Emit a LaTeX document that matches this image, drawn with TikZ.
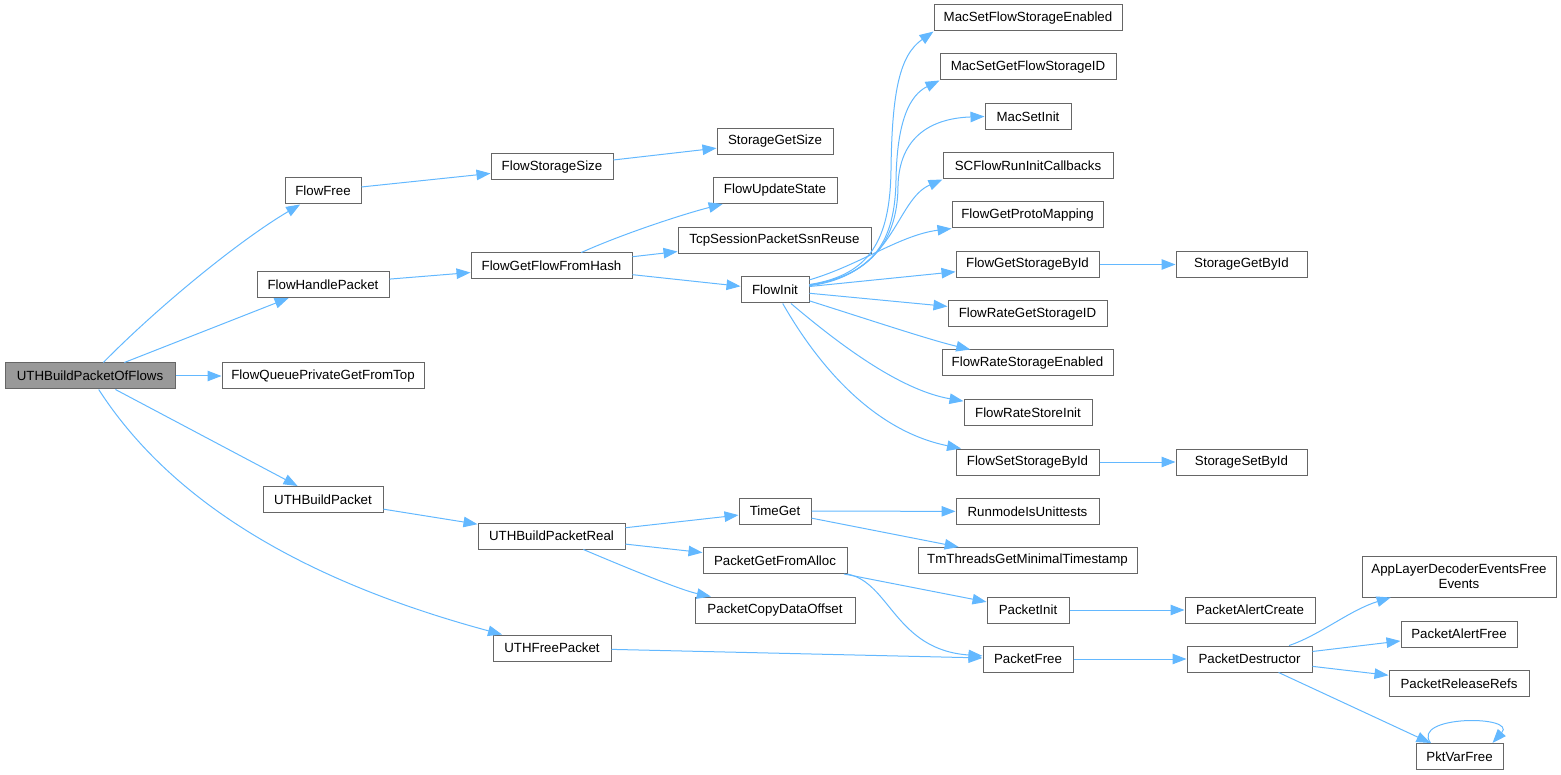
\documentclass[tikz,border=0pt]{standalone}
\usepackage{fontspec}
\setmainfont{Liberation Sans}
\usetikzlibrary{arrows.meta}
\definecolor{edgeblue}{HTML}{63B8FF}
\definecolor{boxgray}{HTML}{666666}
\definecolor{rootgray}{HTML}{999999}
\begin{document}
\begin{tikzpicture}[x=1pt,y=-1pt,
  fn/.style={draw=boxgray,fill=white,line width=1pt,minimum height=26pt,inner sep=2pt,font=\fontsize{13.3}{15}\selectfont},
  rootfn/.style={fn,fill=rootgray},
  call/.style={draw=edgeblue,line width=1pt,-{Triangle[length=14pt,width=10.5pt]}}]
\useasboundingbox (0,0) rectangle (1561,775);

\node[rootfn,minimum width=170pt] (root) at (90,376) {UTHBuildPacketOfFlows};
\node[fn,minimum width=76pt] (ffree) at (323,191) {FlowFree};
\node[fn,minimum width=132pt] (fhp) at (323,284.5) {FlowHandlePacket};
\node[fn,minimum width=202pt] (fqp) at (323,376) {FlowQueuePrivateGetFromTop};
\node[fn,minimum width=120pt] (uthbp) at (323,499.5) {UTHBuildPacket};
\node[fn,minimum width=122pt] (fss) at (552,167) {FlowStorageSize};
\node[fn,minimum width=161pt] (fgffh) at (551.5,266) {FlowGetFlowFromHash};
\node[fn,minimum width=147pt] (uthbpr) at (551.5,536) {UTHBuildPacketReal};
\node[fn,minimum width=118pt] (uthfp) at (552,648) {UTHFreePacket};
\node[fn,minimum width=116pt] (sgs) at (775,141.5) {StorageGetSize};
\node[fn,minimum width=124pt] (fus) at (775,190.5) {FlowUpdateState};
\node[fn,minimum width=193pt] (tcp) at (774.5,240.5) {TcpSessionPacketSsnReuse};
\node[fn,minimum width=68pt] (finit) at (775,290) {FlowInit};
\node[fn,minimum width=72pt] (tget) at (775,511) {TimeGet};
\node[fn,minimum width=144pt] (pgfa) at (775,560.5) {PacketGetFromAlloc};
\node[fn,minimum width=160pt] (pcdo) at (775,610) {PacketCopyDataOffset};
\node[fn,minimum width=188pt] (msfse) at (1028,18) {MacSetFlowStorageEnabled};
\node[fn,minimum width=176pt] (msgfs) at (1028,67) {MacSetGetFlowStorageID};
\node[fn,minimum width=86pt] (msi) at (1028,116.5) {MacSetInit};
\node[fn,minimum width=170pt] (scfric) at (1028,166) {SCFlowRunInitCallbacks};
\node[fn,minimum width=151pt] (fgpm) at (1027.5,215) {FlowGetProtoMapping};
\node[fn,minimum width=143pt] (fgsbi) at (1027.5,264.5) {FlowGetStorageById};
\node[fn,minimum width=159pt] (frgs) at (1027.5,314) {FlowRateGetStorageID};
\node[fn,minimum width=171pt] (frse) at (1027.5,363) {FlowRateStorageEnabled};
\node[fn,minimum width=128pt] (frsi) at (1028,412.5) {FlowRateStoreInit};
\node[fn,minimum width=143pt] (fssbi) at (1027.5,462) {FlowSetStorageById};
\node[fn,minimum width=143pt] (rmut) at (1027.5,511.5) {RunmodeIsUnittests};
\node[fn,minimum width=219pt] (tmts) at (1027.5,560.5) {TmThreadsGetMinimalTimestamp};
\node[fn,minimum width=82pt] (pinit) at (1028,610) {PacketInit};
\node[fn,minimum width=90pt] (pfree) at (1028,659) {PacketFree};
\node[fn,minimum width=131pt] (sgbi) at (1241.5,264.5) {StorageGetById};
\node[fn,minimum width=131pt] (ssbi) at (1241.5,462) {StorageSetById};
\node[fn,minimum width=130pt] (pac) at (1250,610) {PacketAlertCreate};
\node[fn,minimum width=125pt] (pdes) at (1249.5,659) {PacketDestructor};
\node[fn,minimum width=194pt,minimum height=41pt,align=center] (alde) at (1459,576.5) {AppLayerDecoderEventsFree\\Events};
\node[fn,minimum width=116pt] (paf) at (1459,634) {PacketAlertFree};
\node[fn,minimum width=140pt] (prr) at (1459,683.5) {PacketReleaseRefs};
\node[fn,minimum width=87pt] (pvf) at (1459.5,756.5) {PktVarFree};

\draw[call] (root) .. controls (160,305) and (240,240) .. (ffree);
\draw[call] (root) -- (fhp);
\draw[call] (root) -- (fqp);
\draw[call] (root) -- (uthbp);
\draw[call] (root) .. controls (170,500) and (300,580) .. (uthfp);
\draw[call] (ffree) -- (fss);
\draw[call] (fss) -- (sgs);
\draw[call] (fhp) -- (fgffh);
\draw[call] (fgffh) .. controls (620,235) and (680,215) .. (fus);
\draw[call] (fgffh) -- (tcp);
\draw[call] (fgffh) -- (finit);
\draw[call] (finit) .. controls (870,275) and (890,240) .. (891,170) .. controls (892,90) and (900,55) .. (msfse.south west);
\draw[call] (finit) .. controls (875,275) and (895,240) .. (896,180) .. controls (897,120) and (910,95) .. (msgfs.south west);
\draw[call] (finit) .. controls (880,275) and (898,230) .. (898,185) .. controls (900,130) and (940,118) .. (msi.west);
\draw[call] (finit) .. controls (895,275) and (895,200) .. (scfric.south west);
\draw[call] (finit) .. controls (860,265) and (900,235) .. (fgpm.south west);
\draw[call] (finit) -- (fgsbi);
\draw[call] (finit) -- (frgs);
\draw[call] (finit) .. controls (870,320) and (930,340) .. (frse);
\draw[call] (finit) .. controls (840,345) and (900,390) .. (frsi);
\draw[call] (finit) .. controls (815,360) and (870,430) .. (fssbi);
\draw[call] (fgsbi) -- (sgbi);
\draw[call] (fssbi) -- (ssbi);
\draw[call] (uthbp) -- (uthbpr);
\draw[call] (uthbpr) -- (tget);
\draw[call] (uthbpr) -- (pgfa);
\draw[call] (uthbpr) .. controls (620,565) and (680,590) .. (pcdo);
\draw[call] (tget) -- (rmut);
\draw[call] (tget) -- (tmts);
\draw[call] (pgfa) -- (pinit);
\draw[call] (pgfa) .. controls (890,582) and (895,650) .. (pfree);
\draw[call] (uthfp) -- (pfree);
\draw[call] (pinit) -- (pac);
\draw[call] (pfree) -- (pdes);
\draw[call] (pdes) .. controls (1320,635) and (1350,610) .. (alde);
\draw[call] (pdes) -- (paf);
\draw[call] (pdes) -- (prr);
\draw[call] (pdes) -- (pvf);
\draw[call] ([xshift=-29pt]pvf.north) .. controls +(-20,-28) and +(25,-28) .. ([xshift=33pt]pvf.north);
\end{tikzpicture}
\end{document}
